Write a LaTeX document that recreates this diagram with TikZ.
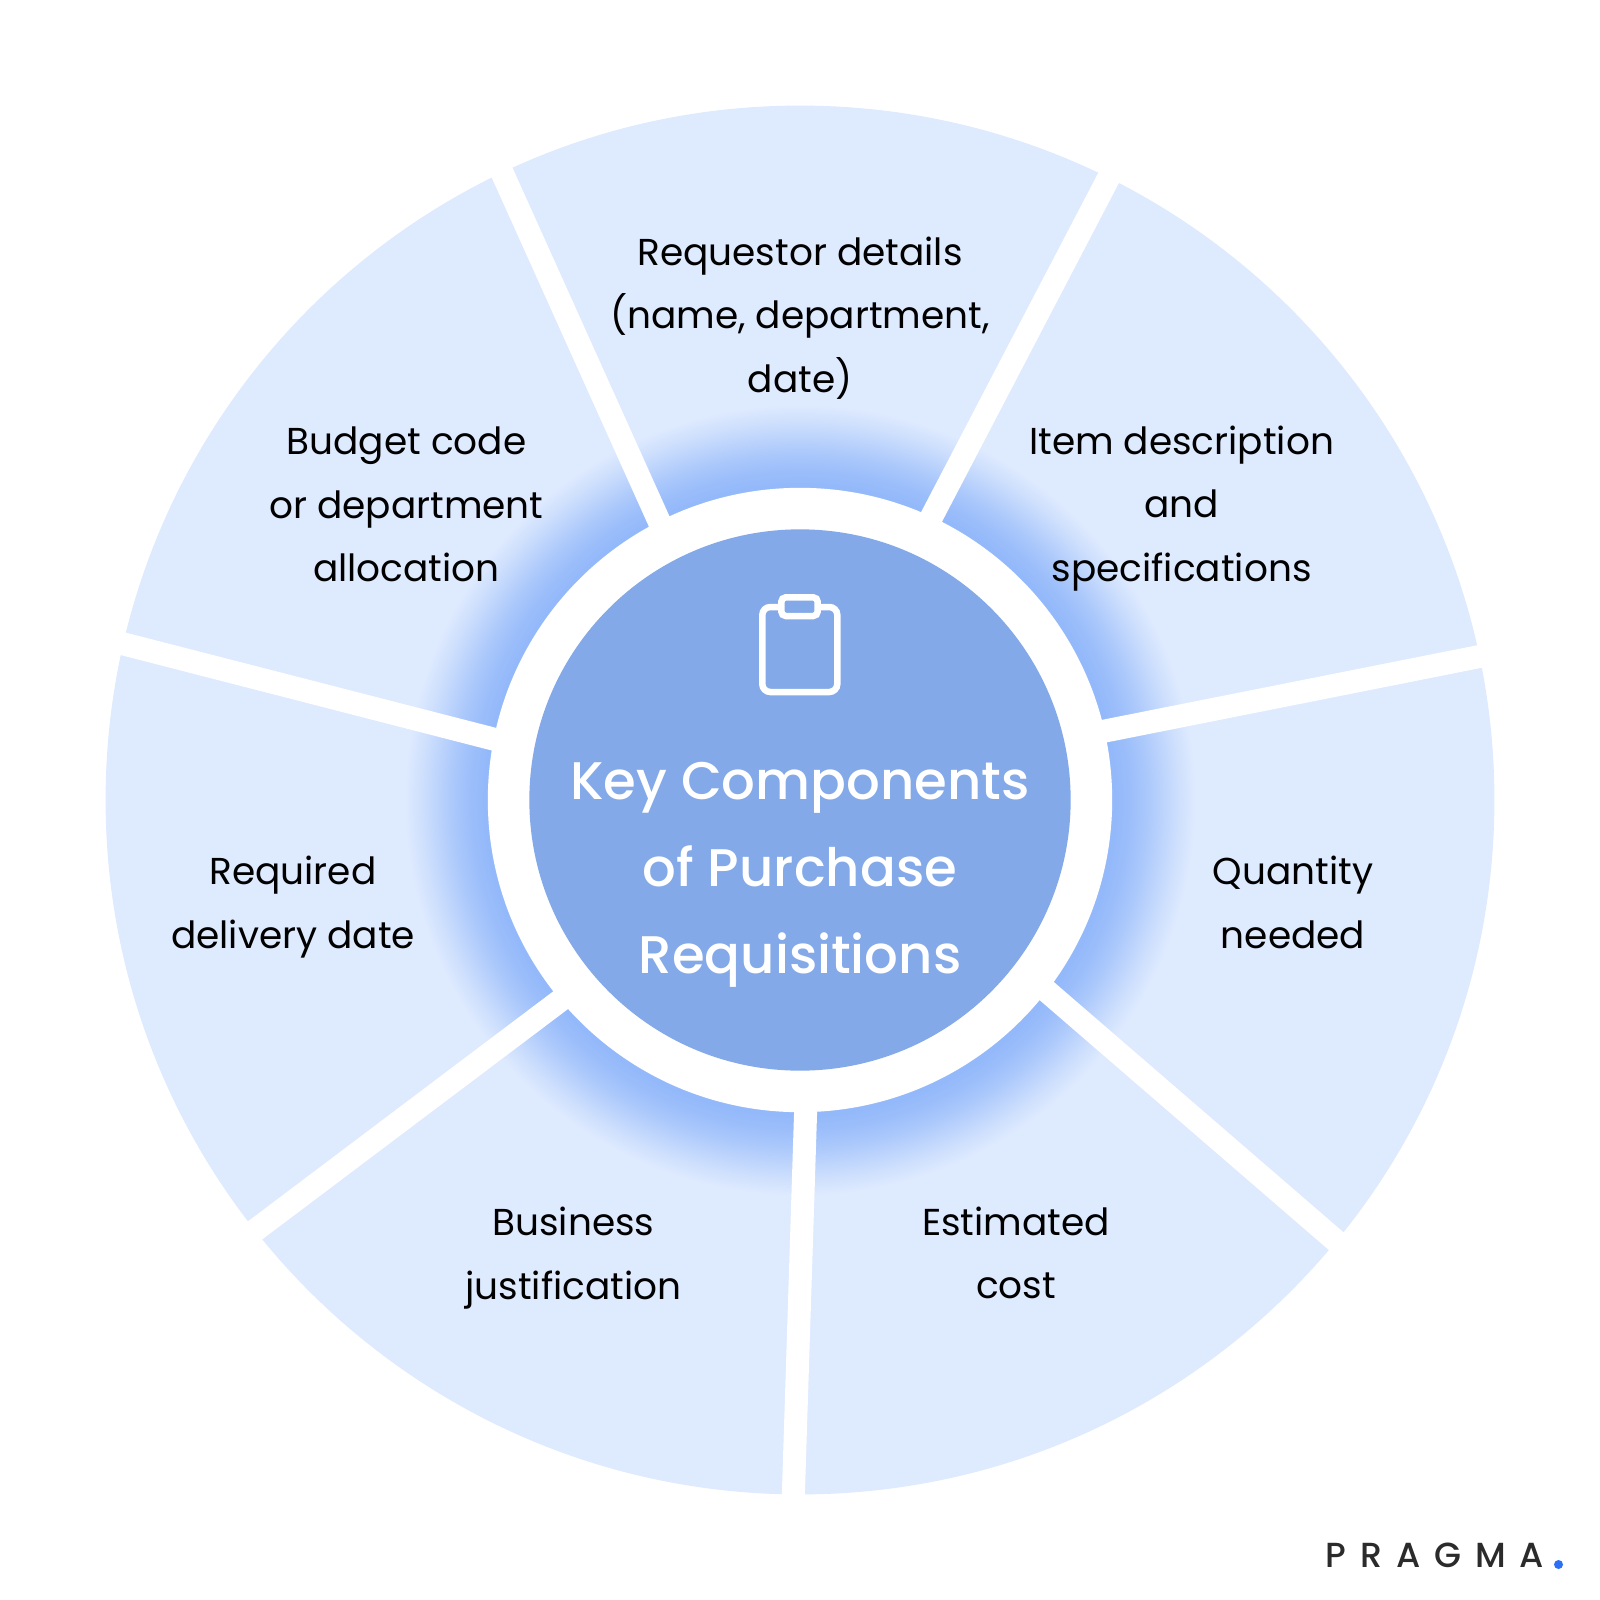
\documentclass[tikz,border=0pt]{standalone}
\usepackage{fontspec}
\setmainfont{Poppins}
\newfontfamily\titlefont{Poppins Medium}
\definecolor{petal}{HTML}{DEEAFE}
\definecolor{hub}{HTML}{84A9E9}
\definecolor{glowc}{HTML}{94B9FA}
\definecolor{logoc}{HTML}{2B2B2B}
\definecolor{dotc}{HTML}{2D6FF5}
\pgfdeclareradialshading{hubglow}{\pgfpointorigin}{
  color(0bp)=(glowc);
  color(20bp)=(glowc);
  color(21bp)=(glowc!88!petal);
  color(22bp)=(glowc!68!petal);
  color(23bp)=(glowc!44!petal);
  color(24bp)=(glowc!20!petal);
  color(25bp)=(petal);
  color(50bp)=(petal)}
\tikzset{
  gapline/.style={draw=white,line width=0.23cm,shorten <=-0.3cm,shorten >=-0.5cm},
  label/.style={text=black,align=center,font=\fontsize{10.65}{18.12}\selectfont,inner sep=0pt},
  title/.style={text=white,align=center,font=\titlefont\fontsize{15.05}{24.67}\selectfont,inner sep=0pt},
  icon/.style={draw=white,line width=0.065cm,rounded corners=0.08cm,fill=hub}
}
\begin{document}
\begin{tikzpicture}[x=0.01cm,y=-0.01cm]
\useasboundingbox (0,0) rectangle (1600,1600);
\fill[white] (0,0) rectangle (1600,1600);
\coordinate (c) at (800,800);
\fill[petal] (c) circle [radius=6.94cm];
\shade[shading=hubglow] (c) circle [radius=3.95cm];
% separators
\coordinate (i1) at (658.7,520.4); \coordinate (o1) at (502.5,173.5);
\coordinate (i2) at (931.6,516.8); \coordinate (o2) at (1108.2,178.6);
\coordinate (i3) at (1105,731);    \coordinate (o3) at (1479,656.6);
\coordinate (i4) at (1047,991.3);  \coordinate (o4) at (1335.2,1240.3);
\coordinate (i5) at (805.6,1111.7);\coordinate (o5) at (793.4,1492.9);
\coordinate (i6) at (560.2,1000.5);\coordinate (o6) at (256.1,1229.6);
\coordinate (i7) at (494.4,739.3); \coordinate (o7) at (123.5,643.9);
\foreach \n in {1,...,7} \draw[gapline] (i\n) -- (o\n);
% hub
\fill[white] (c) circle [radius=3.12cm];
\fill[hub] (c) circle [radius=2.705cm];
% clipboard
\draw[icon] (762.3,607) rectangle (837.3,692);
\draw[icon,rounded corners=0.045cm] (781.3,597.3) rectangle (817.7,616);
% labels
\node[label] (req) at (800,318) {Requestor details\\(name, department,\\date)};
\node[label] (item) at (1181.6,508.5) {Item description\\and\\specifications};
\node[label] (budget) at (406.5,504.5) {Budget code\\or department\\allocation};
\node[label] (qty) at (1293,902.6) {Quantity\\needed};
\node[label] (date) at (293,907) {Required\\delivery date};
\node[label] (cost) at (1016,1253) {Estimated\\cost};
\node[label] (just) at (573.5,1258) {Business\\justification};
\node[title] (ttl) at (800,875) {Key Components\\of Purchase\\Requisitions};
% logo
\node[text=logoc,inner sep=0pt,anchor=base west,font=\titlefont\fontsize{9.9}{12}\selectfont\addfontfeature{LetterSpace=40}] (logo) at (1325,1567) {PRAGMA};
\fill[dotc] (1558.5,1564.5) circle [radius=0.045cm];
\end{tikzpicture}
\end{document}
